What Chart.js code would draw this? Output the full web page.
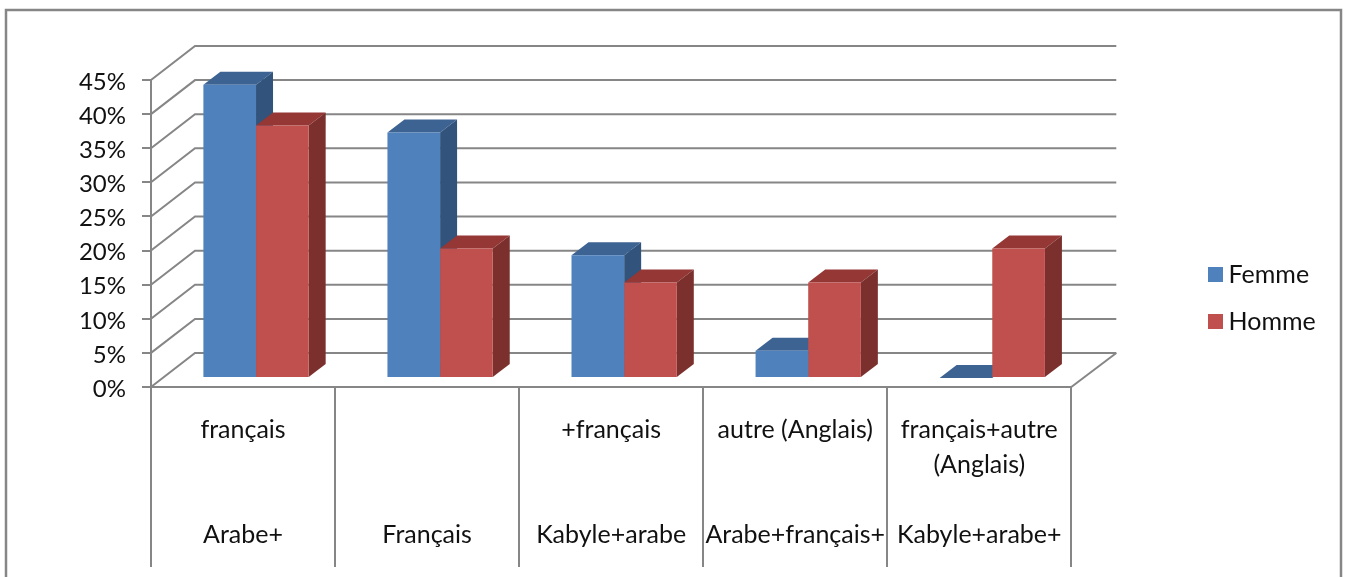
<!DOCTYPE html>
<html lang="fr">
<head>
<meta charset="utf-8">
<title>Langues par sexe</title>
<script src="https://cdn.jsdelivr.net/npm/chart.js@4/dist/chart.umd.js"></script>
<style>
    html, body { margin: 0; background: #fff; }
    #wrap { width: 1347px; height: 577px; }
</style>
</head>
<body>
<div id="wrap"><canvas id="langues"></canvas></div>
<script>
const topLabels    = [['français'], [''], ['+français'], ['autre (Anglais)'], ['français+autre', '(Anglais)']];
const bottomLabels = ['Arabe+', 'Français', 'Kabyle+arabe', 'Arabe+français+', 'Kabyle+arabe+'];
const femme = [43, 36, 18, 4, 0];
const homme = [37, 19, 14, 14, 19];

// four text rows per cell, the last one holds the lower level of the axis
const categories = topLabels.map((rows, i) => [rows[0], rows[1] || '', '', bottomLabels[i]]);

const FONT  = 'Lato, "Liberation Sans", sans-serif';
const LINE  = '#868686';
const WALL  = { dx: 44, dy: -34 };   // depth of the side wall and floor
const PLANE = { dx: 13, dy: -9 };    // bars stand a little behind the front edge
const BAR   = { dx: 17, dy: -13 };   // depth of a single bar

const shades = {
    Femme: { top: '#3C6392', side: '#31537C' },
    Homme: { top: '#943735', side: '#7B302E' }
};

const poly = (ctx, pts, color) => {
    ctx.fillStyle = color;
    ctx.beginPath();
    pts.forEach(([x, y], i) => i ? ctx.lineTo(x, y) : ctx.moveTo(x, y));
    ctx.closePath();
    ctx.fill();
};

const depth3d = {
    id: 'depth3d',

    // legend sits well away from the plot
    afterLayout(chart) {
        const lg = chart.legend;
        lg.left  = 1193;
        lg.right = lg.left + lg.width;
        lg.top   = 240;
    },

    beforeDraw(chart) {
        const { ctx } = chart;
        ctx.save();
        ctx.strokeStyle = LINE;
        ctx.lineWidth = 2.5;
        ctx.strokeRect(6, 10, 1335, 600);
        ctx.restore();
    },

    // back wall, side wall and floor, then the faces of the bars
    beforeDatasetsDraw(chart) {
        const { ctx, chartArea: a, scales: { y } } = chart;
        ctx.save();
        ctx.strokeStyle = LINE;
        ctx.lineWidth = 2;
        y.ticks.forEach(t => {
            const py = y.getPixelForValue(t.value);
            ctx.beginPath();
            ctx.moveTo(a.left, py);
            ctx.lineTo(a.left + WALL.dx, py + WALL.dy);
            ctx.lineTo(a.right + WALL.dx + 1, py + WALL.dy);
            ctx.stroke();
        });
        ctx.beginPath();
        ctx.moveTo(a.right, a.bottom);
        ctx.lineTo(a.right + WALL.dx + 1, a.bottom + WALL.dy);
        ctx.stroke();
        ctx.restore();

        ctx.save();
        ctx.translate(PLANE.dx, PLANE.dy);

        // Femme first so the tops of Homme overlap its side face
        chart.data.datasets.forEach((ds, d) => {
            const c = shades[ds.label];
            chart.getDatasetMeta(d).data.forEach(bar => {
                const { x, y: top, base, width } = bar.getProps(['x', 'y', 'base', 'width'], true);
                const l = x - width / 2, r = x + width / 2;
                poly(ctx, [[l, top], [l + BAR.dx, top + BAR.dy], [r + BAR.dx, top + BAR.dy], [r, top]], c.top);
                poly(ctx, [[r, top], [r + BAR.dx, top + BAR.dy], [r + BAR.dx, base + BAR.dy], [r, base]], c.side);
            });
        });
    },

    afterDatasetsDraw(chart) {
        chart.ctx.restore();
    }
};

new Chart(document.getElementById('langues'), {
    type: 'bar',
    plugins: [depth3d],
    data: {
        labels: categories,
        datasets: [
            { label: 'Femme', data: femme, backgroundColor: '#4F81BD' },
            { label: 'Homme', data: homme, backgroundColor: '#C0504D' }
        ]
    },
    options: {
        responsive: true,
        maintainAspectRatio: false,
        animation: false,
        layout: { padding: { top: 80, left: 0, right: 143, bottom: 0 } },
        datasets: { bar: { categoryPercentage: 0.572, barPercentage: 1, borderWidth: 0 } },
        plugins: {
            tooltip: { enabled: false },
            legend: {
                position: 'right',
                align: 'start',
                labels: {
                    // square marker with a narrow box keeps the text close to the swatch
                    usePointStyle: true,
                    pointStyle: 'rect',
                    boxWidth: 1,
                    boxHeight: 15,
                    padding: 22,
                    color: '#111',
                    textAlign: 'left',
                    font: { family: FONT, size: 25 }
                }
            }
        },
        scales: {
            x: {
                afterFit: s => { s.height = 190; },
                border: { color: LINE, width: 2 },
                grid: { offset: true, drawOnChartArea: false, color: LINE, lineWidth: 2, tickLength: 180 },
                ticks: {
                    autoSkip: false,
                    maxRotation: 0,
                    padding: -155,
                    color: '#111',
                    font: { family: FONT, size: 25, lineHeight: 1.4 }
                }
            },
            y: {
                min: 0,
                max: 45,
                afterFit: s => { s.width = 151; },
                border: { color: LINE, width: 2 },
                grid: { drawOnChartArea: false, color: LINE, lineWidth: 2, tickLength: 9 },
                ticks: {
                    stepSize: 5,
                    padding: 16,
                    labelOffset: 2,
                    color: '#111',
                    font: { family: FONT, size: 24 },
                    callback: v => v + '%'
                }
            }
        }
    }
});
</script>
</body>
</html>
